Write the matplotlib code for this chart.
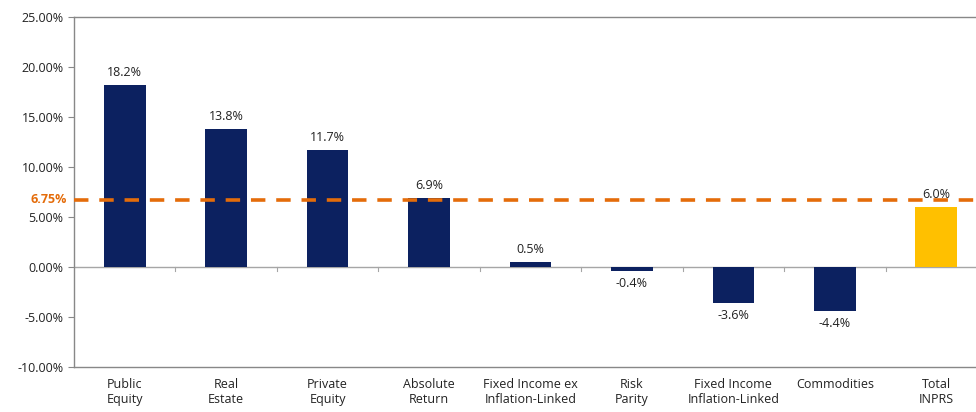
import numpy as np
import matplotlib.pyplot as plt
from matplotlib.ticker import FuncFormatter

categories = ['Public\nEquity', 'Real\nEstate', 'Private\nEquity', 'Absolute\nReturn',
              'Fixed Income ex\nInflation-Linked', 'Risk\nParity',
              'Fixed Income\nInflation-Linked', 'Commodities', 'Total\nINPRS']
returns = [18.2, 13.8, 11.7, 6.9, 0.5, -0.4, -3.6, -4.4, 6.0]
target = 6.75

navy = '#0c2160'
gold = '#ffc000'
orange = '#e46c0a'
colors = [navy] * 8 + [gold]

plt.rcParams['font.family'] = ['Open Sans', 'DejaVu Sans']
fs = 9

fig = plt.figure(figsize=(9.76, 4.12), dpi=100)
ax = fig.add_axes([74 / 976, 45 / 412, 913 / 976, 350 / 412])

x = np.arange(len(categories))
ax.bar(x, returns, width=0.41, color=colors, zorder=2)

ax.axhline(0, color='#a6a6a6', linewidth=1, zorder=1)
for xi in x[:-1] + 0.5:
    ax.plot([xi, xi], [0, -0.35], color='#a6a6a6', linewidth=0.8, zorder=1)

ax.axhline(target, color=orange, linewidth=2.6, dashes=(4, 3), zorder=3)

for xi, v in zip(x, returns):
    if v >= 0:
        ax.text(xi, v + 0.6, f'{v:.1f}%', ha='center', va='bottom', fontsize=fs, color='#222222')
    else:
        ax.text(xi, v - 0.6, f'{v:.1f}%', ha='center', va='top', fontsize=fs, color='#222222')

ax.set_xlim(-0.5, len(categories) - 0.5)
ax.set_ylim(-10, 25)
ax.set_yticks(np.arange(-10, 26, 5))
ax.yaxis.set_major_formatter(FuncFormatter(lambda v, p: f'{v:.2f}%'))
ax.tick_params(axis='y', labelsize=fs, colors='#222222', length=4, color='#888888')
ax.set_xticks(x)
ax.set_xticklabels(categories, fontsize=fs, color='#222222')
ax.tick_params(axis='x', length=0, pad=8)

# target label in the left margin
ax.text(-0.57, target, '6.75%', ha='right', va='center',
        fontsize=fs, color=orange, fontweight='bold')

for s in ['left', 'top', 'bottom']:
    ax.spines[s].set_color('#888888')
    ax.spines[s].set_linewidth(1)
ax.spines['right'].set_visible(False)

fig.savefig('out.png', dpi=100)
